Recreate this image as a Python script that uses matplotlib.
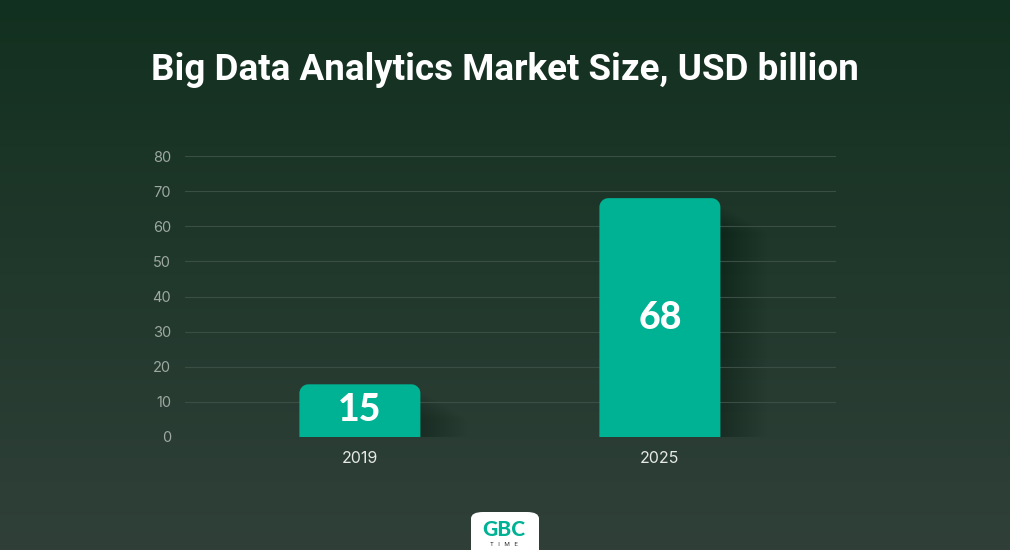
import numpy as np
import matplotlib.pyplot as plt
from matplotlib.patches import FancyBboxPatch, Rectangle, PathPatch
from matplotlib.path import Path

years = ['2019', '2025']
market_size = [15, 68]
y_ticks = [0, 10, 20, 30, 40, 50, 60, 70, 80]

title = 'Big Data Analytics Market Size, USD billion'
bar_color = '#00b294'

W, H = 1010, 550
fig = plt.figure(figsize=(W / 100, H / 100), dpi=100)

# background gradient
bg = fig.add_axes([0, 0, 1, 1])
top = np.array([0x12, 0x30, 0x1f]) / 255
bot = np.array([0x30, 0x40, 0x39]) / 255
t = np.linspace(0, 1, 256)[:, None]
grad = top + (bot - top) * t
img = np.repeat(grad[:, None, :], 2, axis=1)
bg.imshow(img, aspect='auto', extent=[0, 1, 0, 1], origin='upper')
bg.set_axis_off()

# chart axes: x 185..836 px, y 156..437 px
ax = fig.add_axes([185 / W, 1 - 437 / H, 651 / W, 281 / H])
ax.set_facecolor('none')
x = np.arange(len(years))
ax.set_xlim(-0.583, 1.587)
ax.set_ylim(0, 80)

px_x = 651 / (1.587 + 0.583)
px_y = 281 / 80
bar_w = 121 / px_x


def top_rounded(x0, w, h, rad_px=9):
    rx = rad_px / px_x
    ry = rad_px / px_y
    ang = np.linspace(0, np.pi / 2, 12)
    pts = [(x0, 0), (x0 + w, 0), (x0 + w, h - ry)]
    pts += [(x0 + w - rx + rx * np.cos(a), h - ry + ry * np.sin(a)) for a in ang]
    pts += [(x0 + rx - rx * np.sin(a), h - ry + ry * np.cos(a)) for a in ang]
    pts += [(x0, 0)]
    return Path(pts)


for xi, v in zip(x, market_size):
    # soft shadow to the right
    for k in range(16):
        ax.add_patch(Rectangle((xi - bar_w / 2 + (2 + k * 3) / px_x, -2), bar_w, v - k * 0.5,
                               facecolor='black', alpha=0.011, lw=0, zorder=1))
    ax.add_patch(PathPatch(top_rounded(xi - bar_w / 2, bar_w, v),
                           facecolor=bar_color, lw=0, zorder=3))
    ax.text(xi, v / 2 if v > 30 else v / 2 + 0.3, str(v), ha='center', va='center',
            color='white', fontsize=27, fontweight='black', family='Lato', zorder=4)

ax.set_yticks(y_ticks)
ax.grid(axis='y', color='#3b4e45', lw=0.8, zorder=0)
ax.set_xticks(x)
ax.set_xticklabels(years, color='#e6e9e7', fontsize=11.5, family='Inter')
for lbl in ax.get_yticklabels():
    lbl.set_color('#9da9a2')
    lbl.set_fontsize(10.5)
    lbl.set_family('Inter')
ax.tick_params(length=0, pad=10, axis='y')
ax.tick_params(length=0, pad=10, axis='x')
for s in ax.spines.values():
    s.set_visible(False)

fig.text(505 / W, 1 - 70 / H, title, ha='center', va='center', color='white',
         fontsize=26.5, fontweight='bold', family='Roboto')

# logo badge
logo = FancyBboxPatch((471 / W, -0.05), 68 / W, 38 / H + 0.05,
                      boxstyle='round,pad=0,rounding_size=0.012',
                      transform=fig.transFigure, facecolor='white', lw=0, zorder=5)
fig.patches.append(logo)
fig.text(504 / W, 1 - 529 / H, 'GBC', ha='center', va='center', color=bar_color,
         fontsize=15, fontweight='black', family='Lato', zorder=6)
fig.text(504 / W, 1 - 544 / H, 'T   I   M   E', ha='center', va='center', color='#333333',
         fontsize=4.5, family='Roboto', zorder=6)

fig.savefig('out.png', dpi=100)
